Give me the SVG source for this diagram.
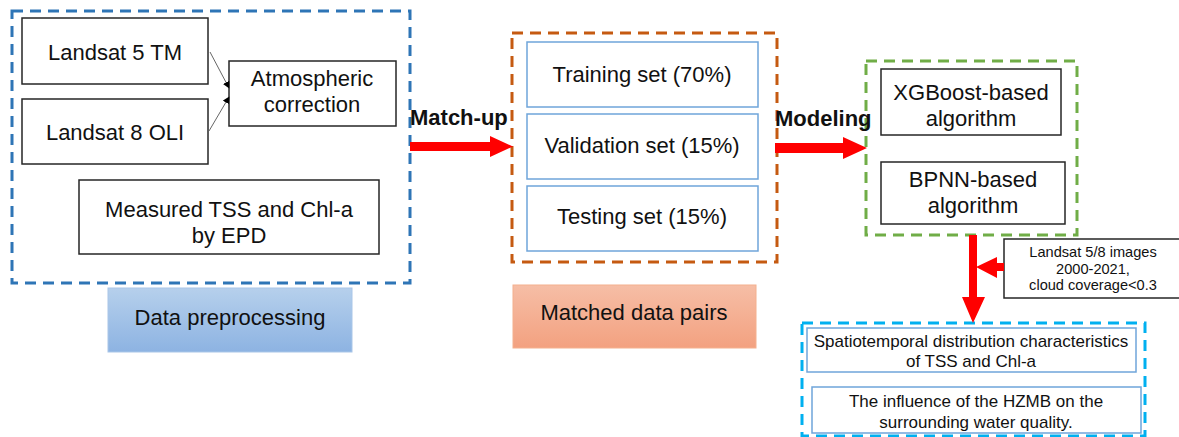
<svg xmlns="http://www.w3.org/2000/svg" width="1179" height="437" viewBox="0 0 1179 437">
  <defs>
    <style>
      text { font-family: "Liberation Sans", Arial, sans-serif; fill: #111; text-anchor: middle; }
      .t22 { font-size: 22px; }
      .t16 { font-size: 17px; }
      .t14 { font-size: 14.6px; }
      .bold { font-size: 22px; font-weight: bold; text-anchor: start; }
      .frame { fill: none; stroke-width: 3; stroke-dasharray: 11 7; }
      .box { fill: #fff; stroke: #262626; stroke-width: 1.5; }
      .lbox { fill: #fff; stroke: #6FA5DA; stroke-width: 1.5; }
      .thin { stroke: #666; stroke-width: 1; fill: none; }
      .big { fill: #FF0000; }
    </style>
    <linearGradient id="gBlue" x1="0" y1="0" x2="0" y2="1">
      <stop offset="0" stop-color="#B6D0EC"/>
      <stop offset="1" stop-color="#8DB3E2"/>
    </linearGradient>
    <linearGradient id="gOrange" x1="0" y1="0" x2="0" y2="1">
      <stop offset="0" stop-color="#F6BEA6"/>
      <stop offset="1" stop-color="#F3A180"/>
    </linearGradient>
    <marker id="ah" viewBox="0 0 10 10" refX="9" refY="5" markerWidth="7" markerHeight="7" orient="auto" markerUnits="userSpaceOnUse">
      <path d="M0,0 L10,5 L0,10 Z" fill="#000"/>
    </marker>
  </defs>

  <!-- Data preprocessing stage -->
  <g id="preprocessing">
    <rect class="frame" x="12" y="11" width="398" height="272" stroke="#2E75B6"/>
    <g id="landsat5">
      <rect class="box" x="22" y="18" width="186" height="66"/>
      <text class="t22" x="115" y="60">Landsat 5 TM</text>
    </g>
    <g id="landsat8">
      <rect class="box" x="22" y="99" width="186" height="65"/>
      <text class="t22" x="115" y="140">Landsat 8 OLI</text>
    </g>
    <g id="atmospheric">
      <rect class="box" x="229" y="61" width="167" height="65"/>
      <text class="t22" x="312" y="86">Atmospheric</text>
      <text class="t22" x="312" y="112">correction</text>
    </g>
    <g id="measured">
      <rect class="box" x="79" y="180" width="300" height="74"/>
      <text class="t22" x="229" y="217">Measured TSS and Chl-a</text>
      <text class="t22" x="229" y="243">by EPD</text>
    </g>
  </g>
  <g id="label-preprocessing">
    <rect x="108" y="288" width="244" height="64" fill="url(#gBlue)" stroke="#A9C6E8" stroke-width="1"/>
    <text class="t22" x="230" y="325">Data preprocessing</text>
  </g>

  <!-- Matched data pairs stage -->
  <g id="matched">
    <rect class="frame" x="512" y="33" width="265" height="229" stroke="#C55A11"/>
    <g id="training">
      <rect class="lbox" x="527" y="42" width="231" height="65"/>
      <text class="t22" x="642" y="82">Training set (70%)</text>
    </g>
    <g id="validation">
      <rect class="lbox" x="527" y="114" width="231" height="65"/>
      <text class="t22" x="642" y="153">Validation set (15%)</text>
    </g>
    <g id="testing">
      <rect class="lbox" x="527" y="186" width="231" height="65"/>
      <text class="t22" x="642" y="224">Testing set (15%)</text>
    </g>
  </g>
  <g id="label-matched">
    <rect x="513" y="285" width="243" height="63" fill="url(#gOrange)" stroke="#F4B08E" stroke-width="1"/>
    <text class="t22" x="634" y="320">Matched data pairs</text>
  </g>

  <!-- Modeling stage -->
  <g id="modeling">
    <rect class="frame" x="866" y="61" width="211" height="174" stroke="#70AD47"/>
    <g id="xgboost">
      <rect class="box" x="881" y="69" width="180" height="66"/>
      <text class="t22" x="971" y="100">XGBoost-based</text>
      <text class="t22" x="971" y="126">algorithm</text>
    </g>
    <g id="bpnn">
      <rect class="box" x="881" y="162" width="184" height="62"/>
      <text class="t22" x="973" y="187">BPNN-based</text>
      <text class="t22" x="973" y="213">algorithm</text>
    </g>
  </g>

  <!-- Image input -->
  <g id="images">
    <rect class="box" x="1004" y="239" width="180" height="59"/>
    <text class="t14" x="1093" y="257">Landsat 5/8 images</text>
    <text class="t14" x="1093" y="274">2000-2021,</text>
    <text class="t14" x="1093" y="290">cloud coverage&lt;0.3</text>
  </g>

  <!-- Application results -->
  <g id="results">
    <rect class="frame" x="802" y="323" width="343" height="113" stroke="#00B0F0"/>
    <g id="spatiotemporal">
      <rect class="lbox" x="807" y="328" width="329" height="44"/>
      <text class="t16" x="971" y="347">Spatiotemporal distribution characteristics</text>
      <text class="t16" x="971" y="367">of TSS and Chl-a</text>
    </g>
    <g id="influence">
      <rect class="lbox" x="812" y="387" width="329" height="46"/>
      <text class="t16" x="976" y="407">The influence of the HZMB on the</text>
      <text class="t16" x="976" y="428">surrounding water quality.</text>
    </g>
  </g>

  <!-- Connectors -->
  <g id="connectors">
    <line class="thin" x1="210" y1="52" x2="229" y2="88" marker-end="url(#ah)"/>
    <line class="thin" x1="209" y1="131" x2="229" y2="97" marker-end="url(#ah)"/>

    <text class="bold" x="410" y="125">Match-up</text>
    <path class="big" d="M410,142 L490,142 L490,136 L513,146.5 L490,157 L490,151 L410,151 Z"/>

    <text class="bold" x="775" y="126">Modeling</text>
    <path class="big" d="M775,143 L843,143 L843,137 L867,148 L843,159 L843,153 L775,153 Z"/>

    <path class="big" d="M969,235 L977,235 L977,297 L985,297 L973,323 L962,297 L969,297 Z"/>
    <path class="big" d="M1004,263 L997,263 L997,257 L976,267 L997,278 L997,271 L1004,271 Z"/>
  </g>
</svg>
